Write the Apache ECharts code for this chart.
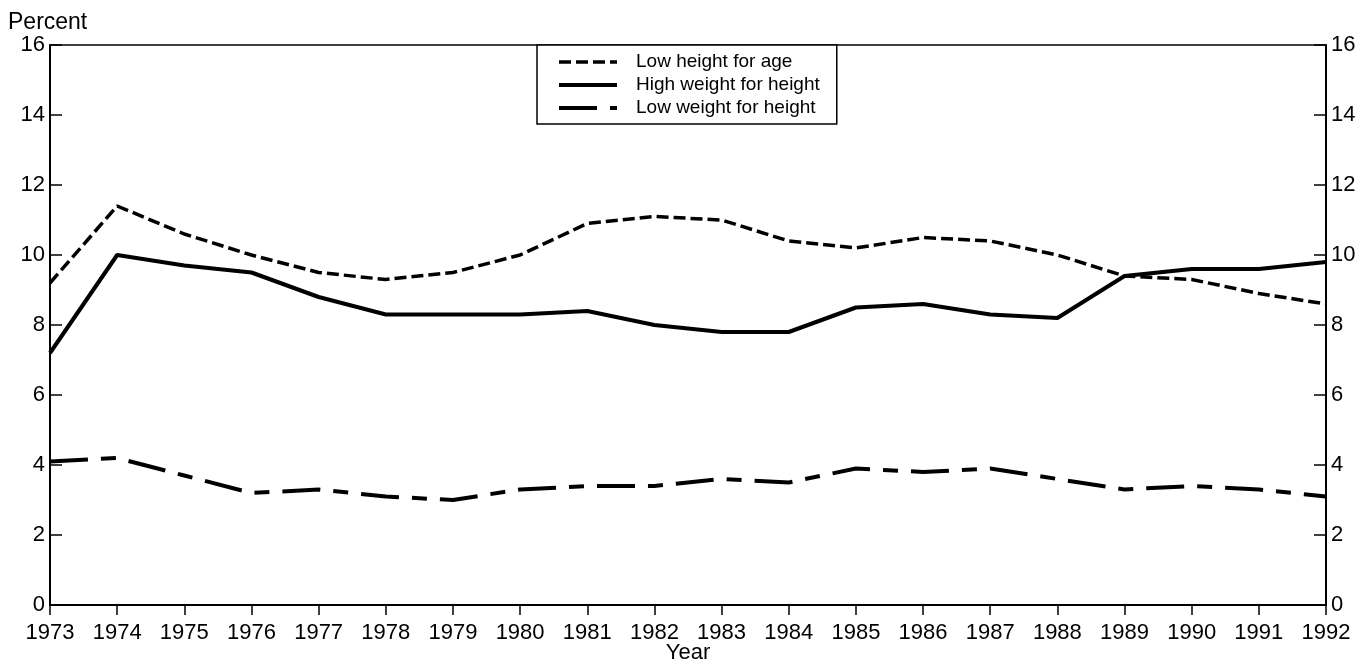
<!DOCTYPE html>
<html>
<head>
<meta charset="utf-8">
<script src="https://cdn.jsdelivr.net/npm/echarts@6/dist/echarts.min.js"></script>
<style>html,body{margin:0;padding:0;background:#fff}#c{width:1369px;height:665px}</style>
</head>
<body>
<div id="c"></div>
<script>
const years = ['1973','1974','1975','1976','1977','1978','1979','1980','1981','1982','1983','1984','1985','1986','1987','1988','1989','1990','1991','1992'];
const lowHeightForAge = [9.2,11.4,10.6,10.0,9.5,9.3,9.5,10.0,10.9,11.1,11.0,10.4,10.2,10.5,10.4,10.0,9.4,9.3,8.9,8.6];
const highWeightForHeight = [7.2,10.0,9.7,9.5,8.8,8.3,8.3,8.3,8.4,8.0,7.8,7.8,8.5,8.6,8.3,8.2,9.4,9.6,9.6,9.8];
const lowWeightForHeight = [4.1,4.2,3.7,3.2,3.3,3.1,3.0,3.3,3.4,3.4,3.6,3.5,3.9,3.8,3.9,3.6,3.3,3.4,3.3,3.1];
const seriesNames = ['Low height for age','High weight for height','Low weight for height'];
const yTicks = {min:0, max:16, interval:2};

const font = 'Liberation Sans, Arial, Helvetica, sans-serif';
const chart = echarts.init(document.getElementById('c'), null, {renderer:'canvas'});
const yAxisBase = (pos) => ({
  type:'value', position:pos, min:yTicks.min, max:yTicks.max, interval:yTicks.interval,
  axisLine:{show:true, lineStyle:{color:'#000', width:2}},
  axisTick:{show:true, inside:true, length:12, lineStyle:{color:'#000', width:1.5}},
  axisLabel:{color:'#000', fontSize:22, fontFamily:font, margin:5},
  splitLine:{show:false}
});
chart.setOption({
  backgroundColor:'#fff',
  animation:false,
  grid:{left:50, right:43, top:45, bottom:60, outerBoundsMode:'none', containLabel:false,
        show:true, borderColor:'#000', borderWidth:1.5, backgroundColor:'transparent'},
  title:{text:'Percent', left:8, top:11, padding:0, textStyle:{fontSize:23, fontWeight:'normal', color:'#000', fontFamily:font}},
  legend:{
    orient:'vertical', left:537, top:45,
    data:seriesNames,
    itemWidth:58, itemHeight:14, itemGap:3,
    padding:[7,17,6,20],
    borderColor:'#000', borderWidth:1.5, backgroundColor:'#fff',
    itemStyle:{opacity:0},
    lineStyle:{width:'inherit'},
    textStyle:{fontSize:19, lineHeight:20, color:'#000', fontFamily:font, padding:[0,0,0,14]}
  },
  xAxis:{
    type:'category', data:years, boundaryGap:false,
    name:'Year', nameLocation:'middle', nameGap:37, nameMoveOverlap:false,
    nameTextStyle:{fontSize:22, color:'#000', fontFamily:font},
    axisLine:{lineStyle:{color:'#000', width:2}},
    axisTick:{show:true, alignWithLabel:true, length:10, lineStyle:{color:'#000', width:1.5}},
    axisLabel:{color:'#000', fontSize:22, fontFamily:font, margin:17, interval:0}
  },
  yAxis:[yAxisBase('left'), yAxisBase('right')],
  series:[
    {name:seriesNames[0], type:'line', data:lowHeightForAge, symbol:'none', smooth:false,
     lineStyle:{color:'#000', width:3.5, type:[12,5]}, itemStyle:{color:'#000'}},
    {name:seriesNames[1], type:'line', data:highWeightForHeight, symbol:'none',
     lineStyle:{color:'#000', width:4, type:'solid'}, itemStyle:{color:'#000'}},
    {name:seriesNames[2], type:'line', data:lowWeightForHeight, symbol:'none',
     lineStyle:{color:'#000', width:4, type:[38,13,15,13]}, itemStyle:{color:'#000'}}
  ]
});
</script>
</body>
</html>
